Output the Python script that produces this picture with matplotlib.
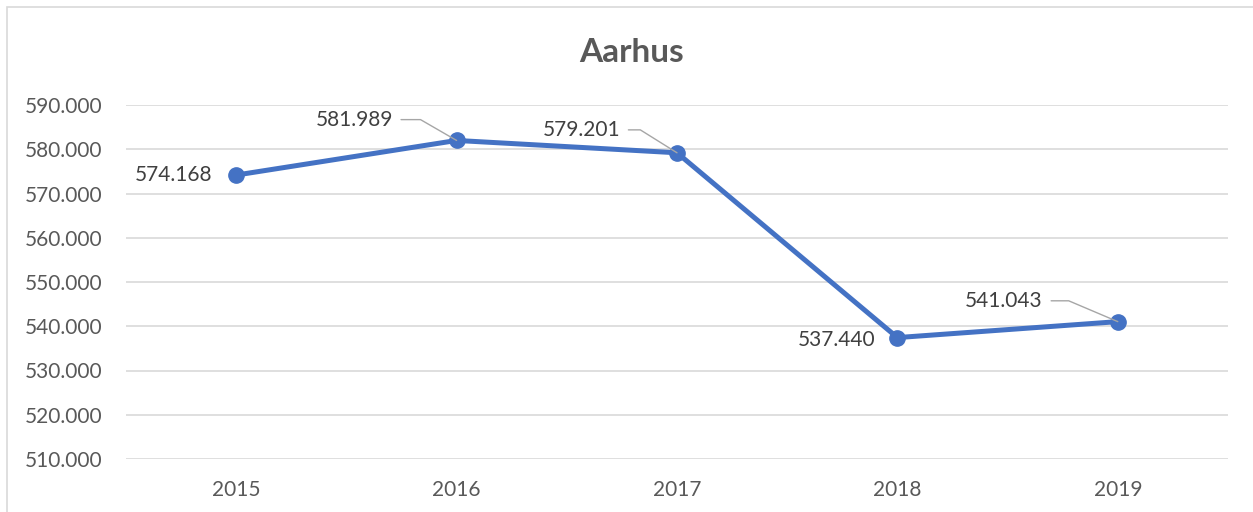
import matplotlib
matplotlib.use("Agg")
import matplotlib.pyplot as plt
from matplotlib.patches import Rectangle
from matplotlib.ticker import FuncFormatter

years = ["2015", "2016", "2017", "2018", "2019"]
values = [574168, 581989, 579201, 537440, 541043]
labels = ["574.168", "581.989", "579.201", "537.440", "541.043"]
y_ticks = [510000, 520000, 530000, 540000, 550000, 560000, 570000, 580000, 590000]

plt.rcParams['font.family'] = ['Lato', 'DejaVu Sans']
grey = "#595959"
dark = "#404040"

fig = plt.figure(figsize=(12.53, 5.12), dpi=100)
ax = fig.add_axes([126/1253, 1-459/512, (1228-126)/1253, (459-105)/512])

x = list(range(len(years)))
ax.plot(x, values, color="#4472C4", lw=3.6, marker="o", ms=11, zorder=3,
        solid_capstyle="round")

ax.set_xlim(-0.5, len(years) - 0.5)
ax.set_ylim(510000, 590000)
ax.set_yticks(y_ticks)
ax.yaxis.set_major_formatter(FuncFormatter(lambda v, p: f"{int(v):,}".replace(",", ".")))
ax.set_xticks(x)
ax.set_xticklabels(years)
ax.grid(axis="y", color="#D9D9D9", lw=1.2)
ax.set_axisbelow(True)
for s in ax.spines.values():
    s.set_visible(False)
ax.tick_params(axis="both", length=0, labelsize=15, labelcolor=grey)
ax.tick_params(axis="y", pad=17)
ax.tick_params(axis="x", pad=15)

# label offsets (points) relative to data points; leader angle for leader lines
offsets = [(-17, 0, None), (-46, 15, 150), (-41, 16.5, 148), (-16, -1.5, None), (-54, 15, 157)]
for xi, v, lab, (dx, dy, ang) in zip(x, values, labels, offsets):
    if ang is None:
        ax.annotate(lab, (xi, v), xytext=(dx, dy), textcoords="offset points",
                    ha="right", va="center", fontsize=15, color=dark)
    else:
        ax.annotate(lab, (xi, v), xytext=(dx, dy), textcoords="offset points",
                    ha="right", va="center", fontsize=15, color=dark,
                    arrowprops=dict(arrowstyle="-", color="#A6A6A6", lw=1,
                                    relpos=(1, 0.5), shrinkA=4, shrinkB=0,
                                    connectionstyle=f"angle,angleA=0,angleB={ang},rad=0"))

fig.text(632/1253, 1-52/512, "Aarhus", ha="center", va="center",
         fontsize=24, fontweight="bold", color=grey)

fig.patches.append(Rectangle((7/1253, -0.1), 1.2, 1 - 7/512 + 0.1,
                             transform=fig.transFigure, fill=False,
                             edgecolor="#D9D9D9", lw=1.2, clip_on=False))

fig.savefig("out.png", dpi=100)
